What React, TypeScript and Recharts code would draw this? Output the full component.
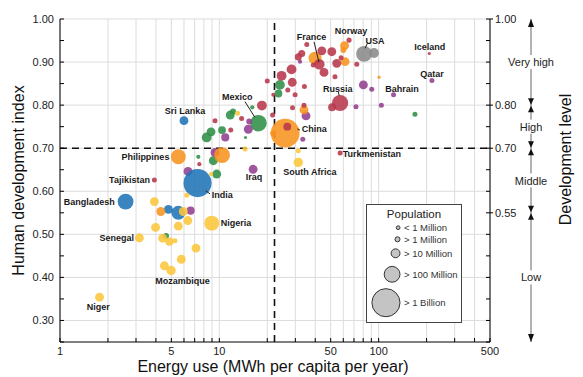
import React from 'react';
import { ScatterChart, Scatter, XAxis, YAxis, CartesianGrid, ReferenceLine, Label } from 'recharts';

const FONT = 'Arial, "Liberation Sans", Helvetica, sans-serif';

// [energy use MWh per capita per year, HDI, population in millions]
type Row = [number, number, number];

const latinAmerica: Row[] = [
  [4.63, 0.496, 2], [24.0, 0.847, 15], [23.5, 0.827, 6], [16.1, 0.795, 0.5],
  [11.7, 0.777, 10], [12.2, 0.785, 2], [8.87, 0.738, 10], [8.33, 0.725, 15],
  [10.4, 0.742, 6], [14.6, 0.725, 0.15], [9.17, 0.671, 10], [7.38, 0.68, 0.5],
  [9.63, 0.64, 10], [169, 0.779, 1], [17.6, 0.758, 120],
];

const middleEast: Row[] = [
  [32.1, 0.901, 0.5], [35.0, 0.775, 10], [33.4, 0.721, 1], [80.2, 0.847, 10],
  [90.5, 0.837, 1], [72.1, 0.796, 1], [104, 0.8, 1], [124, 0.824, 1],
  [216, 0.857, 1], [15.2, 0.744, 10], [15.4, 0.762, 2], [10.9, 0.725, 7],
  [9.4, 0.69, 10], [16.3, 0.651, 10], [6.36, 0.646, 10], [6.6, 0.555, 7],
];

const southAsia: Row[] = [
  [6.0, 0.764, 10], [4.79, 0.558, 10], [5.53, 0.55, 60], [2.58, 0.576, 100], [7.3, 0.619, 1000],
];

const africa: Row[] = [
  [31.3, 0.694, 1], [31.3, 0.667, 12], [14.5, 0.698, 1], [8.87, 0.64, 0.5],
  [13.0, 0.781, 1], [6.24, 0.591, 1], [3.91, 0.576, 10], [5.94, 0.553, 10],
  [6.34, 0.532, 10], [5.53, 0.519, 10], [8.96, 0.526, 80], [3.98, 0.516, 10],
  [3.15, 0.492, 10], [4.41, 0.491, 10], [4.86, 0.483, 7], [5.27, 0.485, 1],
  [7.14, 0.468, 10], [5.77, 0.442, 10], [4.52, 0.427, 10], [4.98, 0.416, 12],
  [1.77, 0.354, 10],
];

const eastAsia: Row[] = [
  [21.8, 0.735, 2], [25.9, 0.735, 1100], [39.9, 0.909, 45], [61.1, 0.938, 10],
  [60.0, 0.928, 2], [61.5, 0.901, 10], [100.6, 0.865, 0.15], [34.0, 0.789, 10],
  [10.4, 0.684, 100], [5.53, 0.68, 80], [4.29, 0.553, 10],
];

const europe: Row[] = [
  [35.4, 0.941, 1], [32.9, 0.92, 4], [31.3, 0.912, 4], [44.0, 0.926, 10],
  [50.8, 0.924, 10], [38.9, 0.893, 1], [54.6, 0.897, 10], [58.1, 0.91, 1],
  [65.2, 0.951, 1.2], [72.9, 0.895, 1], [45.4, 0.876, 10], [28.4, 0.883, 15],
  [24.6, 0.868, 15], [28.7, 0.853, 10], [20.0, 0.856, 1], [26.9, 0.835, 1],
  [34.2, 0.843, 1], [53.2, 0.866, 1], [21.8, 0.824, 0.4], [29.9, 0.824, 1],
  [18.5, 0.799, 15], [28.8, 0.794, 1], [34.0, 0.8, 1], [21.6, 0.777, 1],
  [13.8, 0.769, 1], [9.4, 0.764, 1], [11.8, 0.742, 1], [7.49, 0.663, 0.5],
  [3.91, 0.626, 1], [208, 0.92, 0.15], [57.3, 0.689, 1], [51.0, 0.795, 6],
  [57.3, 0.805, 110], [42.4, 0.895, 20], [26.7, 0.75, 6],
];

const northAmerica: Row[] = [
  [93.5, 0.921, 15], [81.0, 0.919, 100],
];

// country name annotations, placed in data coordinates
const countryLabels = [
  { name: 'France', energy: 37.9, hdi: 0.959 },
  { name: 'Norway', energy: 67, hdi: 0.973 },
  { name: 'USA', energy: 95, hdi: 0.95 },
  { name: 'Iceland', energy: 209, hdi: 0.934 },
  { name: 'Qatar', energy: 216, hdi: 0.872 },
  { name: 'Bahrain', energy: 140, hdi: 0.837 },
  { name: 'Russia', energy: 55.4, hdi: 0.837 },
  { name: 'Mexico', energy: 12.95, hdi: 0.818 },
  { name: 'Sri Lanka', energy: 6.09, hdi: 0.787 },
  { name: 'China', energy: 32.9, hdi: 0.745 },
  { name: 'Philippines', energy: 4.86, hdi: 0.68 },
  { name: 'Tajikistan', energy: 3.67, hdi: 0.626 },
  { name: 'Bangladesh', energy: 2.21, hdi: 0.576 },
  { name: 'India', energy: 8.96, hdi: 0.591 },
  { name: 'Nigeria', energy: 10.2, hdi: 0.527 },
  { name: 'Senegal', energy: 2.91, hdi: 0.492 },
  { name: 'Mozambique', energy: 5.87, hdi: 0.392 },
  { name: 'Niger', energy: 1.74, hdi: 0.331 },
  { name: 'Iraq', energy: 16.5, hdi: 0.634 },
  { name: 'South Africa', energy: 25.2, hdi: 0.645 },
  { name: 'Turkmenistan', energy: 59.5, hdi: 0.687 },
];
const endAnchored = ['Philippines', 'Tajikistan', 'Bangladesh', 'Senegal'];
const startAnchored = ['China', 'India', 'Nigeria', 'South Africa', 'Turkmenistan'];

// leader lines [from, to] in data coordinates
const leaders: [number, number, number, number][] = [
  [39.3, 0.947, 42.2, 0.9],
  [14.5, 0.808, 16.7, 0.772],
  [84.6, 0.942, 82.2, 0.932],
  [55.9, 0.831, 56.5, 0.822],
  [8.22, 0.601, 8.74, 0.594],
  [30.9, 0.745, 32.1, 0.742],
];

const xTicks = [1, 2, 3, 4, 5, 6, 7, 8, 9, 10, 20, 30, 40, 50, 60, 70, 80, 90, 100, 200, 300, 400, 500];
const xLabels = [1, 5, 10, 50, 100, 500];
const hdiTicks = [0.25, 0.3, 0.35, 0.4, 0.45, 0.5, 0.55, 0.6, 0.65, 0.7, 0.75, 0.8, 0.85, 0.9, 0.95, 1.0];
const hdiLabels = [0.3, 0.4, 0.5, 0.6, 0.7, 0.8, 0.9, 1.0];
const levelBounds = [1.0, 0.8, 0.7, 0.55, 0.25];
const levelNames = ['Very high', 'High', 'Middle', 'Low'];
const energyThreshold = 22.2;
const hdiThreshold = 0.7;

const legendPops = [0.3, 1, 10, 100, 1000];
const legendNames = ['< 1 Million', '> 1 Million', '> 10 Million', '> 100 Million', '> 1 Billion'];

const COLORS = {
  latin: '#2f8f48',
  mideast: '#933f8f',
  southAsia: '#1f73b7',
  africa: '#fcc63b',
  eastAsia: '#f7931e',
  europe: '#b7374c',
  northAmerica: '#8a8a8a',
};

const series = [
  { key: 'latin', rows: latinAmerica, color: COLORS.latin },
  { key: 'mideast', rows: middleEast, color: COLORS.mideast },
  { key: 'southAsia', rows: southAsia, color: COLORS.southAsia },
  { key: 'africa', rows: africa, color: COLORS.africa },
  { key: 'eastAsia', rows: eastAsia, color: COLORS.eastAsia },
  { key: 'europe', rows: europe, color: COLORS.europe },
  { key: 'northAmerica', rows: northAmerica, color: COLORS.northAmerica },
];

const radius = (pop: number) => 2.5 * Math.pow(pop, 0.25);
const isIn = (list: number[], v: number) => list.some((t) => Math.abs(t - v) < 1e-6);
const levelMids = levelNames.map((_, i) => (levelBounds[i] + levelBounds[i + 1]) / 2);

const BottomTick = ({ x, y, payload }: any) => (
  <g>
    <line x1={x} x2={x} y1={y} y2={y - 4} stroke="#000" />
    {isIn(xLabels, payload.value) && (
      <text x={x} y={y + 9} textAnchor="middle" dominantBaseline="central" fontSize={11} fill="#222" fontFamily={FONT}>
        {payload.value}
      </text>
    )}
  </g>
);

const TopTick = ({ x, y }: any) => <line x1={x} x2={x} y1={y} y2={y + 4} stroke="#000" />;

const LeftTick = ({ x, y, payload }: any) => (
  <g>
    <line x1={x} x2={x + 4} y1={y} y2={y} stroke="#000" />
    {isIn(hdiLabels, payload.value) && (
      <text x={x - 6} y={y} textAnchor="end" dominantBaseline="central" fontSize={11} fill="#222" fontFamily={FONT}>
        {payload.value.toFixed(2)}
      </text>
    )}
  </g>
);

const RightTick = ({ x, y, payload }: any) => {
  const labelled = isIn(levelBounds.slice(0, 4), payload.value);
  return (
    <g>
      <line x1={x - 4} x2={labelled ? x + 3 : x} y1={y} y2={y} stroke="#000" />
      {labelled && (
        <text x={x + 5} y={y} textAnchor="start" dominantBaseline="central" fontSize={11} fill="#222" fontFamily={FONT}>
          {payload.value.toFixed(2)}
        </text>
      )}
    </g>
  );
};

const LevelTick = ({ x, y, payload }: any) => {
  const v = payload.value;
  const mid = levelMids.findIndex((m) => Math.abs(m - v) < 1e-6);
  if (mid >= 0) {
    return (
      <g>
        <rect x={x - 5} y={y - 7} width={10} height={14} fill="#fff" />
        <text x={x} y={y} textAnchor="middle" dominantBaseline="central" fontSize={11} fill="#222" fontFamily={FONT}>
          {levelNames[mid]}
        </text>
      </g>
    );
  }
  const i = levelBounds.findIndex((b) => Math.abs(b - v) < 1e-6);
  if (i === 0) return <path d={`M${x},${y} L${x - 3},${y + 8} L${x + 3},${y + 8} Z`} fill="#111" />;
  if (i === levelBounds.length - 1) return <path d={`M${x},${y} L${x - 3},${y - 8} L${x + 3},${y - 8} Z`} fill="#111" />;
  return (
    <g fill="#111">
      <path d={`M${x},${y - 0.5} L${x - 3},${y - 7} L${x + 3},${y - 7} Z`} />
      <path d={`M${x},${y + 0.5} L${x - 3},${y + 7} L${x + 3},${y + 7} Z`} />
    </g>
  );
};

const titleStyle = { fontSize: 16, fill: '#111', fontFamily: FONT };

const CountryLabel = ({ cx, cy, payload }: any) => {
  const anchor = endAnchored.includes(payload.name) ? 'end' : startAnchored.includes(payload.name) ? 'start' : 'middle';
  return (
    <text x={cx} y={cy} textAnchor={anchor} dominantBaseline="central" fontSize={9} fontWeight="bold" fill="#1a1a1a" fontFamily={FONT}>
      {payload.name}
    </text>
  );
};

const PopulationLegend = () => {
  const rowY = [23.7, 35.3, 49.3, 70.3, 98.7];
  return (
    <div style={{ position: 'absolute', left: 366, top: 204, width: 96, height: 119, background: '#fff', border: '1px solid #444', boxSizing: 'border-box' }}>
      <svg width={94} height={117}>
        <text x={47} y={9} textAnchor="middle" dominantBaseline="central" fontSize={11.5} fill="#222" fontFamily={FONT}>
          Population
        </text>
        {legendPops.map((p, i) => (
          <g key={legendNames[i]}>
            <circle cx={33 - radius(p)} cy={rowY[i] - 1} r={radius(p)} fill="#c4c4c4" stroke="#333" strokeWidth={1} />
            <text x={37} y={rowY[i] - 1} dominantBaseline="central" fontSize={9.5} fill="#333" fontFamily={FONT}>
              {legendNames[i]}
            </text>
          </g>
        ))}
      </svg>
    </div>
  );
};

export default function App() {
  return (
    <div style={{ position: 'absolute', left: 0, top: 0, width: 583, height: 377, background: '#fff' }}>
      <style>{'body{margin:0}'}</style>
      <ScatterChart width={583} height={377} margin={{ top: 19, right: 0, bottom: 0, left: 0 }}>
        <CartesianGrid xAxisId="x" yAxisId="y" stroke="#dcdcdc" horizontalValues={hdiLabels} verticalValues={xTicks} />
        <XAxis
          xAxisId="x"
          dataKey="energy"
          type="number"
          scale="log"
          domain={[1, 500]}
          ticks={xTicks}
          interval={0}
          height={35}
          tickSize={0}
          tickMargin={0}
          tickLine={false}
          axisLine={{ stroke: '#000' }}
          tick={<BottomTick />}
          allowDataOverflow
        >
          <Label
            content={({ viewBox }: any) => (
              <text x={viewBox.x + viewBox.width / 2 - 2} y={viewBox.y + 24} textAnchor="middle" dominantBaseline="central" style={titleStyle}>
                Energy use (MWh per capita per year)
              </text>
            )}
          />
        </XAxis>
        <XAxis
          xAxisId="top"
          orientation="top"
          dataKey="energy"
          type="number"
          scale="log"
          domain={[1, 500]}
          ticks={xTicks}
          interval={0}
          height={0}
          tickSize={0}
          tickMargin={0}
          tickLine={false}
          axisLine={{ stroke: '#000' }}
          tick={<TopTick />}
          allowDataOverflow
        />
        <YAxis
          yAxisId="y"
          dataKey="hdi"
          type="number"
          domain={[0.25, 1]}
          ticks={hdiTicks}
          interval={0}
          width={60}
          tickSize={0}
          tickMargin={0}
          tickLine={false}
          axisLine={{ stroke: '#000' }}
          tick={<LeftTick />}
          allowDataOverflow
        >
          <Label
            content={({ viewBox }: any) => {
              const cx = viewBox.x + 18;
              const cy = viewBox.y + viewBox.height / 2;
              return (
                <text x={cx} y={cy} transform={`rotate(-90 ${cx} ${cy})`} textAnchor="middle" dominantBaseline="central" style={titleStyle}>
                  Human development index
                </text>
              );
            }}
          />
        </YAxis>
        <YAxis
          yAxisId="hdiRight"
          orientation="right"
          dataKey="hdi"
          type="number"
          domain={[0.25, 1]}
          ticks={hdiTicks}
          interval={0}
          width={41}
          tickSize={0}
          tickMargin={0}
          tickLine={false}
          axisLine={{ stroke: '#000' }}
          tick={<RightTick />}
          allowDataOverflow
        />
        <YAxis
          yAxisId="level"
          orientation="right"
          dataKey="hdi"
          type="number"
          domain={[0.25, 1]}
          ticks={[...levelBounds, ...levelMids]}
          interval={0}
          width={52}
          tickSize={0}
          tickMargin={0}
          tickLine={false}
          axisLine={{ stroke: '#666' }}
          tick={<LevelTick />}
          allowDataOverflow
        >
          <Label
            content={({ viewBox }: any) => {
              const cx = viewBox.x + 34;
              const cy = viewBox.y + viewBox.height / 2 - 21;
              return (
                <text x={cx} y={cy} transform={`rotate(-90 ${cx} ${cy})`} textAnchor="middle" dominantBaseline="central" style={titleStyle}>
                  Development level
                </text>
              );
            }}
          />
        </YAxis>
        <ReferenceLine xAxisId="x" yAxisId="y" y={hdiThreshold} stroke="#111" strokeWidth={1.6} strokeDasharray="7 5" zIndex={-50} />
        <ReferenceLine xAxisId="x" yAxisId="y" x={energyThreshold} stroke="#111" strokeWidth={1.6} strokeDasharray="7 5" zIndex={-50} />
        {series.map((s) => (
          <Scatter
            key={s.key}
            xAxisId="x"
            yAxisId="y"
            data={s.rows.map(([energy, hdi, pop]) => ({ energy, hdi, pop }))}
            isAnimationActive={false}
            shape={(p: any) => <circle cx={p.cx} cy={p.cy} r={radius(p.payload.pop)} fill={s.color} fillOpacity={0.88} />}
          />
        ))}
        {leaders.map(([x1, y1, x2, y2], i) => (
          <ReferenceLine
            key={i}
            xAxisId="x"
            yAxisId="y"
            segment={[{ x: x1, y: y1 }, { x: x2, y: y2 }]}
            stroke="#222"
            strokeWidth={1}
            zIndex={700}
          />
        ))}
        <Scatter xAxisId="x" yAxisId="y" data={countryLabels} isAnimationActive={false} shape={<CountryLabel />} />
      </ScatterChart>
      <PopulationLegend />
    </div>
  );
}
